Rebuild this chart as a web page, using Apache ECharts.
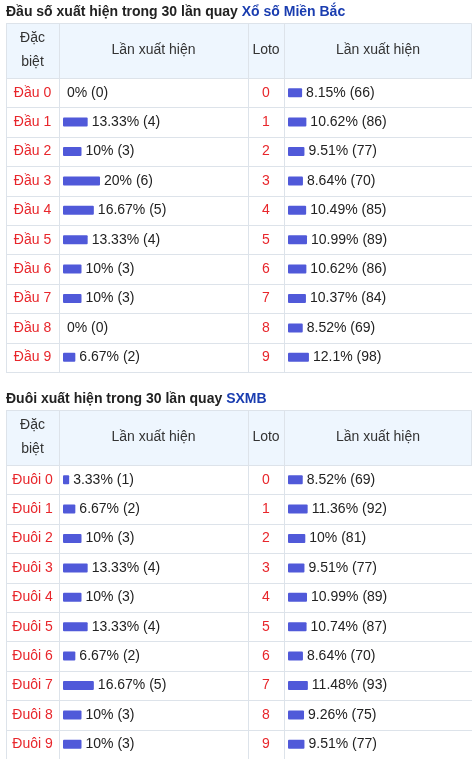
<!DOCTYPE html><html><head><meta charset="utf-8">
<script src="https://cdn.jsdelivr.net/npm/echarts@6/dist/echarts.min.js"></script>
<style>html,body{margin:0;padding:0;background:#fff}#c{width:472px;height:759px}</style></head><body><div id="c"></div>
<script>
const digits=['0','1','2','3','4','5','6','7','8','9'];
const dauPct=[0,13.33,10,20,16.67,13.33,10,10,0,6.67];
const dauCnt=[0,4,3,6,5,4,3,3,0,2];
const loto1Pct=[8.15,10.62,9.51,8.64,10.49,10.99,10.62,10.37,8.52,12.1];
const loto1Cnt=[66,86,77,70,85,89,86,84,69,98];
const duoiPct=[3.33,6.67,10,13.33,10,13.33,6.67,16.67,10,10];
const duoiCnt=[1,2,3,4,3,4,2,5,3,3];
const loto2Pct=[8.52,11.36,10,9.51,10.99,10.74,8.64,11.48,9.26,9.51];
const loto2Cnt=[69,92,81,77,89,87,70,93,75,77];

const F='"Liberation Sans", Arial, sans-serif';
const cols=[6,59,248,284,472];
const rowH=29.4;
const tables=[
 {titleY:12,title1:'Đầu số xuất hiện trong 30 lần quay ',title2:'Xổ số Miền Bắc',hTop:23,rTop:78,prefix:'Đầu ',a:[dauPct,dauCnt],b:[loto1Pct,loto1Cnt]},
 {titleY:399,title1:'Đuôi xuất hiện trong 30 lần quay ',title2:'SXMB',hTop:410,rTop:465,prefix:'Đuôi ',a:[duoiPct,duoiCnt],b:[loto2Pct,loto2Cnt]}
];
const g=[],grids=[],xA=[],yA=[],series=[];
tables.forEach((t,ti)=>{
 g.push({type:'text',x:6,y:t.titleY,style:{text:'{a|'+t.title1+'}{b|'+t.title2+'}',verticalAlign:'middle',
  rich:{a:{font:'bold 14px '+F,fill:'#222'},b:{font:'bold 14px '+F,fill:'#1a3db0'}}}});
 const bottom=t.rTop+rowH*10;
 g.push({type:'rect',shape:{x:6.5,y:t.hTop+0.5,width:465,height:t.rTop-t.hTop},style:{fill:'#eef6fe',stroke:'#dde3ea',lineWidth:1}});
 for(let i=0;i<=10;i++){const y=Math.round(t.rTop+i*rowH)+0.5;g.push({type:'line',shape:{x1:6,y1:y,x2:472,y2:y},style:{stroke:'#dde3ea',lineWidth:1}});}
 cols.forEach(x=>g.push({type:'line',shape:{x1:x+0.5,y1:t.hTop,x2:x+0.5,y2:bottom},style:{stroke:'#dde3ea',lineWidth:1}}));
 const hc=t.hTop+(t.rTop-t.hTop)/2;
 g.push({type:'text',x:32.5,y:hc,style:{text:'Đặc\nbiệt',font:'14px '+F,fill:'#333',align:'center',verticalAlign:'middle',lineHeight:24}});
 g.push({type:'text',x:153.5,y:hc,style:{text:'Lần xuất hiện',font:'14px '+F,fill:'#333',align:'center',verticalAlign:'middle'}});
 g.push({type:'text',x:266,y:hc,style:{text:'Loto',font:'14px '+F,fill:'#333',align:'center',verticalAlign:'middle'}});
 g.push({type:'text',x:378,y:hc,style:{text:'Lần xuất hiện',font:'14px '+F,fill:'#333',align:'center',verticalAlign:'middle'}});
 digits.forEach((d,i)=>{
  const y=t.rTop+(i+0.5)*rowH;
  g.push({type:'text',x:32.5,y:y,style:{text:t.prefix+d,font:'14px '+F,fill:'#e8262b',align:'center',verticalAlign:'middle'}});
  g.push({type:'text',x:266,y:y,style:{text:d,font:'14px '+F,fill:'#e8262b',align:'center',verticalAlign:'middle'}});
 });
 [[t.a,63,185],[t.b,288,173]].forEach(([arr,left,w])=>{
  const gi=grids.length;
  grids.push({left:left,top:t.rTop,width:w,height:rowH*10});
  xA.push({gridIndex:gi,type:'value',min:0,max:100,show:false});
  yA.push({gridIndex:gi,type:'category',data:digits,inverse:true,show:false});
  series.push({type:'bar',xAxisIndex:gi,yAxisIndex:gi,barWidth:9,data:arr[0],
   itemStyle:{color:'#5059d9',borderRadius:1},silent:true,
   label:{show:true,position:'right',distance:4,color:'#222',fontSize:14,fontFamily:F,
    formatter:p=>p.value+'% ('+arr[1][p.dataIndex]+')'}});
 });
});
const ch=echarts.init(document.getElementById('c'));
ch.setOption({animation:false,grid:grids,xAxis:xA,yAxis:yA,series:series,graphic:g});
</script></body></html>
